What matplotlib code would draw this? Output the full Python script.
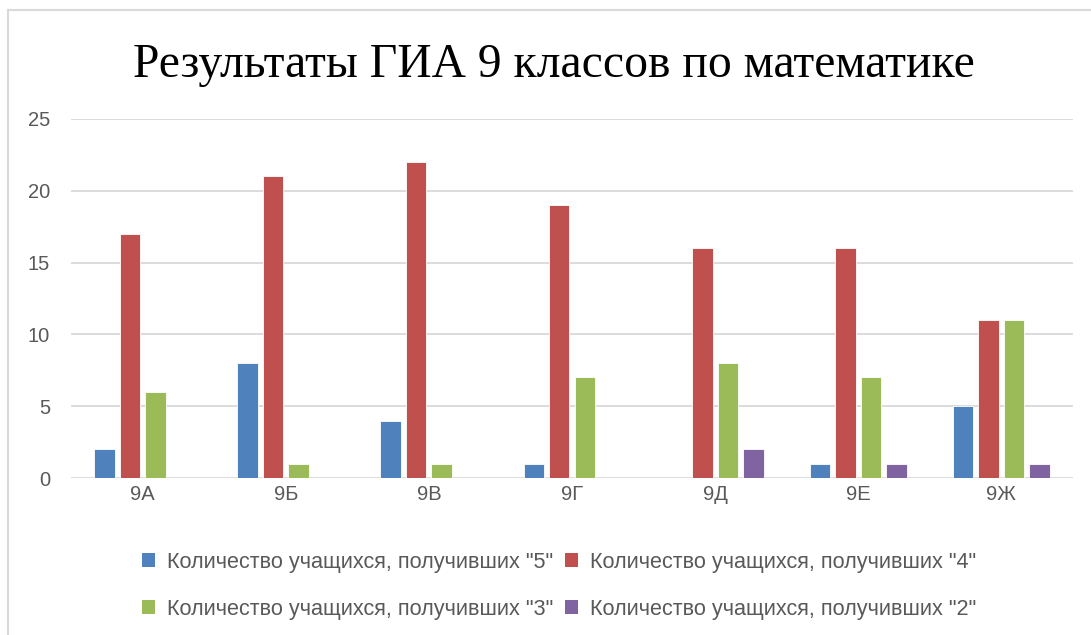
import matplotlib
matplotlib.use("Agg")
import matplotlib.pyplot as plt
from matplotlib.patches import Patch
from matplotlib.lines import Line2D
import numpy as np

categories = ["9А", "9Б", "9В", "9Г", "9Д", "9Е", "9Ж"]
grade5 = [2, 8, 4, 1, 0, 1, 5]
grade4 = [17, 21, 22, 19, 16, 16, 11]
grade3 = [6, 1, 1, 7, 8, 7, 11]
grade2 = [0, 0, 0, 0, 2, 1, 1]
series_labels = [
    'Количество учащихся, получивших "5"',
    'Количество учащихся, получивших "4"',
    'Количество учащихся, получивших "3"',
    'Количество учащихся, получивших "2"',
]
yticks = [0, 5, 10, 15, 20, 25]
title = "Результаты ГИА 9 классов по математике"

colors = ["#4F81BD", "#C0504D", "#9BBB59", "#8064A2"]
sans = ["Liberation Sans Narrow", "Liberation Sans", "DejaVu Sans"]
tick_color = "#595959"

W, H = 1091, 635
fig = plt.figure(figsize=(W / 100, H / 100), dpi=100)
ax = fig.add_axes([71 / W, (H - 478) / H, (1073 - 71) / W, (478 - 119) / H])

x = np.arange(len(categories))
slot = 0.178
bw = 0.143
series = [grade5, grade4, grade3, grade2]
for i, (vals, c) in enumerate(zip(series, colors)):
    ax.bar(x + (i - 1.5) * slot, vals, width=bw, color=c,
           edgecolor="white", linewidth=0.6, zorder=3)

ax.set_xlim(-0.5, len(categories) - 0.5)
ax.set_ylim(0, 25)
ax.set_yticks(yticks)
ax.set_xticks(x)
ax.set_xticklabels(categories)
for s in ax.spines.values():
    s.set_visible(False)
ax.tick_params(axis="both", length=0, colors=tick_color, labelsize=14.5)
ax.tick_params(axis="y", pad=15)
ax.tick_params(axis="x", pad=5)
for lab in ax.get_xticklabels() + ax.get_yticklabels():
    lab.set_fontfamily(sans)
ax.yaxis.grid(True, color="#D9D9D9", linewidth=1.3, zorder=0)
ax.set_axisbelow(True)

fig.text(554 / W, 1 - 65 / H, title, ha="center", va="center",
         fontsize=34.3, family=["Liberation Serif", "DejaVu Serif"], color="black")

handles = [Patch(facecolor=c, edgecolor="none") for c in colors]
order = [0, 2, 1, 3]
leg = fig.legend([handles[i] for i in order], [series_labels[i] for i in order],
                 ncol=2, loc="center", bbox_to_anchor=(559 / W, 1 - 586 / H),
                 frameon=False, handlelength=0.6, handleheight=0.6,
                 handletextpad=0.55, columnspacing=0.55, labelspacing=1.2,
                 prop={"family": sans, "size": 15.6})
for t in leg.get_texts():
    t.set_color(tick_color)

# chart area border
fig.add_artist(Line2D([8 / W, 8 / W], [0, 1 - 10 / H], transform=fig.transFigure,
                      color="#D9D9D9", linewidth=1.5))
fig.add_artist(Line2D([8 / W, 1], [1 - 10 / H, 1 - 10 / H], transform=fig.transFigure,
                      color="#D9D9D9", linewidth=1.5))

fig.savefig("out.png", dpi=100)
